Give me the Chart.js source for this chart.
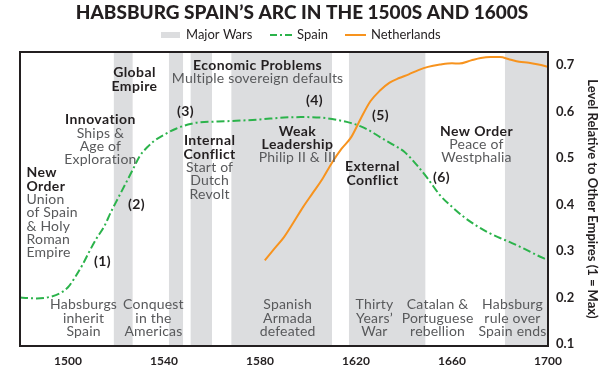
<!DOCTYPE html>
<html>
<head>
<meta charset="utf-8">
<script src="https://cdn.jsdelivr.net/npm/chart.js@4.4.1/dist/chart.umd.min.js"></script>
<style>
  html, body { margin: 0; padding: 0; background: #ffffff; }
  #wrap { width: 604px; height: 384px; }
</style>
</head>
<body>
<div id="wrap"><canvas id="c" width="604" height="384"></canvas></div>
<script>
// ---- data ----
const spainYears = [1480,1487,1493,1497,1500,1503,1506,1509,1512,1515,1518,1521,1524,1527,1530,1533,1536,1540,1545,1550,1555,1560,1570,1580,1590,1597,1605,1612,1618,1622,1626,1630,1635,1640,1645,1650,1655,1660,1665,1670,1675,1680,1685,1690,1695,1700];
const spainValues = [0.200,0.198,0.202,0.210,0.222,0.244,0.270,0.300,0.328,0.352,0.385,0.415,0.445,0.475,0.505,0.523,0.537,0.550,0.563,0.572,0.577,0.578,0.580,0.583,0.587,0.588,0.587,0.582,0.575,0.568,0.558,0.545,0.530,0.514,0.487,0.455,0.420,0.395,0.373,0.355,0.340,0.328,0.317,0.305,0.292,0.280];

const nlYears = [1582,1586,1590,1594,1598,1602,1606,1610,1614,1618,1622,1626,1630,1634,1638,1642,1646,1650,1655,1660,1663,1668,1672,1676,1680,1684,1688,1692,1696,1700];
const nlValues = [0.280,0.305,0.330,0.362,0.395,0.425,0.455,0.490,0.520,0.545,0.585,0.622,0.645,0.662,0.672,0.680,0.689,0.696,0.701,0.704,0.703,0.710,0.715,0.717,0.717,0.712,0.707,0.705,0.701,0.696];

const warStart = [1519,1542,1551,1568,1617,1682];
const warEnd   = [1527,1548,1560,1610,1649,1700];

const xTicks = [1500,1540,1580,1620,1660,1700];
const yTicks = [0.1,0.2,0.3,0.4,0.5,0.6,0.7];

const titleText = 'HABSBURG SPAIN\u2019S ARC IN THE 1500S AND 1600S';
const legendLabels = ['Major Wars','Spain','Netherlands'];
const yAxisTitle = 'Level Relative to Other Empires (1 = Max)';

// annotations: anchor year / value, bold heading lines, regular lines
const annYears  = [1482.7, 1514.4, 1513.5, 1528.5, 1527.7, 1549, 1579, 1559, 1602.7, 1595.6, 1630.2, 1626.9, 1670.2, 1655.6, 1506.5, 1535.6, 1591.5, 1627.7, 1654, 1685.2];
const annValues = [0.468, 0.278, 0.582, 0.399, 0.683, 0.601, 0.700, 0.537, 0.623, 0.558, 0.592, 0.481, 0.558, 0.459, 0.184, 0.184, 0.184, 0.184, 0.184, 0.184];
const annBold = [
  ['New','Order'], ['(1)'], ['Innovation'], ['(2)'], ['Global','Empire'], ['(3)'],
  ['Economic Problems'], ['Internal','Conflict'], ['(4)'], ['Weak','Leadership'], ['(5)'],
  ['External','Conflict'], ['New Order'], ['(6)'],
  [], [], [], [], [], []
];
const annText = [
  ['Union','of Spain','& Holy','Roman','Empire'], [], ['Ships &','Age of','Exploration'], [], [], [],
  ['Multiple sovereign defaults'], ['Start of','Dutch','Revolt'], [], ['Philip II & III'], [],
  [], ['Peace of','Westphalia'], [],
  ['Habsburgs','inherit','Spain'], ['Conquest','in the','Americas'], ['Spanish','Armada','defeated'],
  ['Thirty','Years\u2019','War'], ['Catalan &','Portuguese','rebellion'], ['Habsburg','rule over','Spain ends']
];
const annLeftAligned = [0];

// ---- styles ----
const FONT = 'Lato, "DejaVu Sans", sans-serif';
const GREEN = '#2bb34b';
const ORANGE = '#f7931e';
const GREY = '#dcdddf';
const DARK = '#231f20';
const TEXTGREY = '#58595b';

const yMin = 0.0957, yMax = 0.728;

const warDatasets = warStart.map((s, i) => ({
  label: legendLabels[0],
  data: [{x: s, y: yMax}, {x: warEnd[i], y: yMax}],
  borderWidth: 0,
  borderColor: 'rgba(0,0,0,0)',
  backgroundColor: GREY,
  pointRadius: 0,
  fill: 'start',
  order: 10,
  tension: 0
}));

const framePlugin = {
  id: 'frameAndText',
  afterDatasetsDraw(chart) {
    const {ctx, chartArea: a, scales: {x, y}} = chart;
    ctx.save();
    const lh = 13.3;
    annYears.forEach((yr, i) => {
      const px = x.getPixelForValue(yr);
      let py = y.getPixelForValue(annValues[i]);
      const left = annLeftAligned.includes(i);
      ctx.textAlign = left ? 'left' : 'center';
      ctx.textBaseline = 'middle';
      annBold[i].forEach(t => {
        ctx.font = 'bold 14px ' + FONT;
        ctx.letterSpacing = '0.4px';
        ctx.fillStyle = DARK;
        ctx.fillText(t, px, py);
        py += lh;
      });
      annText[i].forEach(t => {
        ctx.font = '14px ' + FONT;
        ctx.letterSpacing = '0.2px';
        ctx.fillStyle = TEXTGREY;
        ctx.fillText(t, px, py);
        py += lh;
      });
    });
    ctx.letterSpacing = '0px';
    ctx.strokeStyle = DARK;
    ctx.lineWidth = 2;
    ctx.strokeRect(a.left, a.top, a.right - a.left, a.bottom - a.top);
    ctx.restore();
  },
  afterDraw(chart) {
    const {ctx} = chart;
    ctx.save();
    ctx.font = '900 19px ' + FONT;
    ctx.fillStyle = DARK;
    ctx.textAlign = 'center';
    ctx.textBaseline = 'middle';
    ctx.fillText(titleText, 302, 13);
    const ly = 35;
    ctx.font = '13px ' + FONT;
    ctx.textAlign = 'left';
    ctx.fillStyle = GREY;
    ctx.fillRect(161, ly - 3, 19, 6);
    ctx.fillStyle = DARK;
    ctx.fillText(legendLabels[0], 186, ly);
    ctx.strokeStyle = GREEN;
    ctx.lineWidth = 2;
    ctx.setLineDash([7, 3, 2, 3]);
    ctx.beginPath(); ctx.moveTo(270, ly); ctx.lineTo(292, ly); ctx.stroke();
    ctx.setLineDash([]);
    ctx.fillText(legendLabels[1], 297, ly);
    ctx.strokeStyle = ORANGE;
    ctx.beginPath(); ctx.moveTo(345, ly); ctx.lineTo(366, ly); ctx.stroke();
    ctx.fillText(legendLabels[2], 371, ly);
    ctx.restore();
  }
};

new Chart(document.getElementById('c'), {
  type: 'line',
  data: {
    datasets: [
      {
        label: legendLabels[1],
        data: spainYears.map((yr, i) => ({x: yr, y: spainValues[i]})),
        borderColor: GREEN,
        borderWidth: 2,
        borderDash: [8, 3, 2, 3],
        pointRadius: 0,
        fill: false,
        cubicInterpolationMode: 'monotone',
        order: 1
      },
      {
        label: legendLabels[2],
        data: nlYears.map((yr, i) => ({x: yr, y: nlValues[i]})),
        borderColor: ORANGE,
        borderWidth: 2,
        pointRadius: 0,
        fill: false,
        cubicInterpolationMode: 'monotone',
        order: 0
      },
      ...warDatasets
    ]
  },
  options: {
    responsive: false,
    animation: false,
    devicePixelRatio: 1,
    layout: { padding: { top: 52, left: 20, right: 0, bottom: 0 } },
    plugins: { legend: { display: false }, tooltip: { enabled: false }, title: { display: false } },
    scales: {
      x: {
        type: 'linear',
        min: 1480,
        max: 1700,
        afterBuildTicks: s => { s.ticks = xTicks.map(v => ({value: v})); },
        afterFit: s => { s.height = 38; },
        grid: { display: false, drawTicks: false },
        border: { display: false },
        ticks: {
          padding: 8,
          maxRotation: 0,
          color: DARK,
          font: { family: FONT, size: 12, weight: 'bold' },
          callback: v => String(v)
        }
      },
      y: {
        type: 'linear',
        position: 'right',
        min: yMin,
        max: yMax,
        afterBuildTicks: s => { s.ticks = yTicks.map(v => ({value: v})); },
        afterFit: s => { s.width = 56; },
        grid: { display: false, drawTicks: false },
        border: { display: false },
        ticks: {
          padding: 8,
          color: DARK,
          font: { family: FONT, size: 13, weight: 'bold' },
          callback: v => v.toFixed(1)
        },
        title: {
          display: true,
          text: yAxisTitle,
          color: DARK,
          padding: { top: 4, bottom: 0 },
          font: { family: FONT, size: 13, weight: 'bold' }
        }
      }
    }
  },
  plugins: [framePlugin]
});
</script>
</body>
</html>
